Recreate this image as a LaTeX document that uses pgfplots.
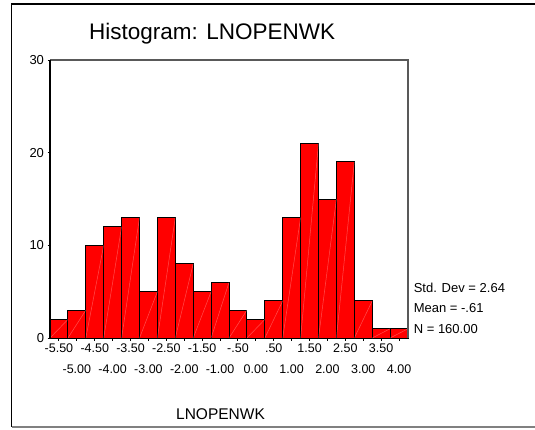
\documentclass[border=0pt]{standalone}
\usepackage{fontspec}
\setmainfont{Liberation Sans}
\usepackage{pgfplots}
\pgfplotsset{compat=1.18}
\begin{document}
\begin{tikzpicture}[x=1bp,y=1bp]
\useasboundingbox (0,0) rectangle (535,429);
\fill[white] (0,0) rectangle (535,429);
\draw[black,line width=1.3bp] (535,425) -- (11.5,425) -- (11.5,2);
\draw[gray,line width=1.6bp] (11.5,2) -- (535,2);
\begin{axis}[
  at={(50bp,91bp)}, anchor=south west,
  scale only axis, width=358bp, height=278bp,
  xmin=-5.75, xmax=4.25, ymin=0, ymax=30,
  clip=false,
  axis x line*=bottom, axis y line*=left,
  axis line style={-, black, line width=1.3bp},
  tick align=outside, major tick length=2.5bp,
  tick style={black, line width=1bp},
  xtick={-5.5,-4.5,...,3.5},
  xticklabels={-5.50,-4.50,-3.50,-2.50,-1.50,-.50,.50,1.50,2.50,3.50},
  extra x ticks={-5,-4,...,4},
  extra x tick labels={-5.00,-4.00,-3.00,-2.00,-1.00,0.00,1.00,2.00,3.00,4.00},
  extra x tick style={tick label style={yshift=-20.3bp}},
  ytick={0,10,20,30},
  yticklabels={0,10,20,30},
  x tick label style={font=\fontsize{12.5bp}{15bp}\selectfont},
  y tick label style={font=\fontsize{13bp}{15bp}\selectfont},
  unbounded coords=jump,
]
\addplot[ybar, bar width=0.5, bar shift=0, fill=red, draw=black, line width=0.9bp]
coordinates {
(-5.5,2) (-5.0,3) (-4.5,10) (-4.0,12) (-3.5,13) (-3.0,5) (-2.5,13) (-2.0,8)
(-1.5,5) (-1.0,6) (-0.5,3) (0.0,2) (0.5,4) (1.0,13) (1.5,21) (2.0,15)
(2.5,19) (3.0,4) (3.5,1) (4.0,1)
};
\addplot[white, opacity=0.3, line width=0.5bp, no marks] coordinates {
(-5.75,0) (-5.25,2) (-5.25,nan)
(-5.25,0) (-4.75,3) (-4.75,nan)
(-4.75,0) (-4.25,10) (-4.25,nan)
(-4.25,0) (-3.75,12) (-3.75,nan)
(-3.75,0) (-3.25,13) (-3.25,nan)
(-3.25,0) (-2.75,5) (-2.75,nan)
(-2.75,0) (-2.25,13) (-2.25,nan)
(-2.25,0) (-1.75,8) (-1.75,nan)
(-1.75,0) (-1.25,5) (-1.25,nan)
(-1.25,0) (-0.75,6) (-0.75,nan)
(-0.75,0) (-0.25,3) (-0.25,nan)
(-0.25,0) (0.25,2) (0.25,nan)
(0.25,0) (0.75,4) (0.75,nan)
(0.75,0) (1.25,13) (1.25,nan)
(1.25,0) (1.75,21) (1.75,nan)
(1.75,0) (2.25,15) (2.25,nan)
(2.25,0) (2.75,19) (2.75,nan)
(2.75,0) (3.25,4) (3.25,nan)
(3.25,0) (3.75,1) (3.75,nan)
(3.75,0) (4.25,1)
};
\draw[gray!70!black, line width=1.4bp] (rel axis cs:0,1) -- (rel axis cs:1,1) -- (rel axis cs:1,0);
\draw[black, line width=1.3bp] (rel axis cs:0,0) -- (rel axis cs:0,1);
\end{axis}
\node[anchor=west, inner sep=0, font=\fontsize{22.5bp}{26bp}\selectfont] at (89,395) {Histogram: LNOPENWK};
\node[anchor=west, inner sep=0, font=\fontsize{13bp}{15bp}\selectfont] at (413.6,141.5) {Std. Dev = 2.64};
\node[anchor=west, inner sep=0, font=\fontsize{13bp}{15bp}\selectfont] at (413.6,121) {Mean = -.61};
\node[anchor=west, inner sep=0, font=\fontsize{13bp}{15bp}\selectfont] at (413.6,99.5) {N = 160.00};
\node[inner sep=0, font=\fontsize{15.5bp}{18bp}\selectfont] at (220.5,15.2) {LNOPENWK};
\end{tikzpicture}
\end{document}
